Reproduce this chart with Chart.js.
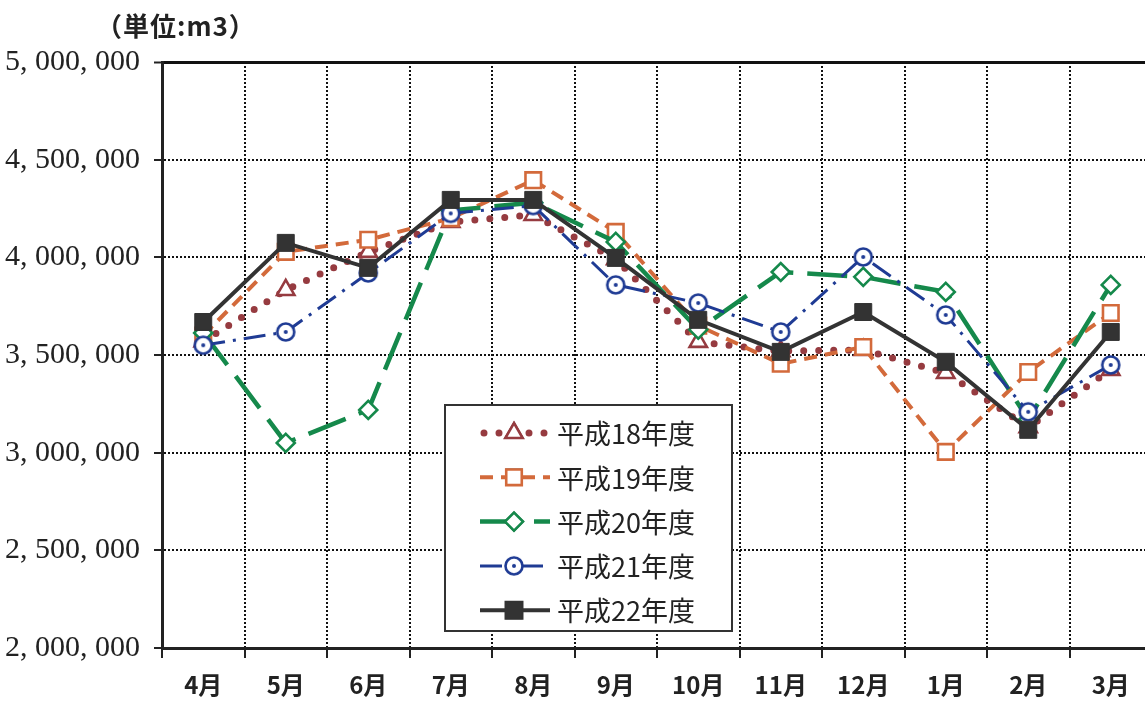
<!DOCTYPE html>
<html lang="ja">
<head>
<meta charset="utf-8">
<script src="https://cdn.jsdelivr.net/npm/chart.js@4/dist/chart.umd.min.js"></script>
<style>
    body { margin: 0; background: #fff; }
    #quadro { position: relative; width: 1145px; height: 704px; overflow: hidden; }
    #unidade {
        position: absolute; left: 96px; top: 6px; letter-spacing: 1px;
        font: bold 26px "Noto Sans CJK JP", sans-serif; color: #222;
    }
    canvas { position: absolute; left: 0; top: 0; }
</style>
</head>
<body>
<div id="quadro">
    <canvas id="grafico" width="1170" height="704"></canvas>
    <div id="unidade">（単位:m3）</div>
</div>
<script>
// Dados
const meses = ['4月', '5月', '6月', '7月', '8月', '9月', '10月', '11月', '12月', '1月', '2月', '3月'];
const nomes = ['平成18年度', '平成19年度', '平成20年度', '平成21年度', '平成22年度'];
const h18 = [3570000, 3833000, 4028000, 4181000, 4217000, 3990000, 3567000, 3520000, 3526000, 3408000, 3130000, 3424000];
const h19 = [3600000, 4028000, 4090000, 4200000, 4395000, 4130000, 3650000, 3455000, 3541000, 3004000, 3413000, 3715000];
const h20 = [3613000, 3050000, 3219000, 4240000, 4280000, 4079000, 3630000, 3925000, 3900000, 3823000, 3170000, 3859000];
const h21 = [3550000, 3618000, 3920000, 4225000, 4265000, 3859000, 3766000, 3618000, 4002000, 3705000, 3209000, 3449000];
const h22 = [3669000, 4074000, 3946000, 4294000, 4294000, 3997000, 3680000, 3516000, 3720000, 3465000, 3117000, 3618000];
const yTicks = [2000000, 2500000, 3000000, 3500000, 4000000, 4500000, 5000000];

// marcador de círculo com ponto no centro
function criarCirculo(cor) {
    const c = document.createElement('canvas');
    c.width = 24;
    c.height = 24;
    const g = c.getContext('2d');
    g.fillStyle = '#fff';
    g.strokeStyle = cor;
    g.lineWidth = 2.6;
    g.beginPath();
    g.arc(12, 12, 8.5, 0, Math.PI * 2);
    g.fill();
    g.stroke();
    g.fillStyle = cor;
    g.beginPath();
    g.arc(12, 12, 2, 0, Math.PI * 2);
    g.fill();
    return c;
}

const circuloAzul = criarCirculo('#1f3b94');

const datasets = [
    {
        label: nomes[0], data: h18, order: 4,
        borderColor: '#963b40', borderWidth: 7, borderDash: [0, 15], borderCapStyle: 'round',
        pointStyle: 'triangle', pointRadius: 10, pointBorderWidth: 2.6,
        pointBorderColor: '#963b40', pointBackgroundColor: '#fff'
    },
    {
        label: nomes[1], data: h19, order: 3,
        borderColor: '#d36a3b', borderWidth: 4, borderDash: [13, 8],
        pointStyle: 'rect', pointRadius: 11, pointBorderWidth: 2.6,
        pointBorderColor: '#d36a3b', pointBackgroundColor: '#fff'
    },
    {
        label: nomes[2], data: h20, order: 2,
        borderColor: '#15894b', borderWidth: 4.5, borderDash: [40, 14],
        pointStyle: 'rectRot', pointRadius: 9, pointBorderWidth: 2.6,
        pointBorderColor: '#15894b', pointBackgroundColor: '#fff'
    },
    {
        label: nomes[3], data: h21, order: 1,
        borderColor: '#1f3b94', borderWidth: 3, borderDash: [22, 8, 3, 8],
        pointStyle: circuloAzul, pointRadius: 10,
        pointBorderColor: '#1f3b94', pointBackgroundColor: '#fff'
    },
    {
        label: nomes[4], data: h22, order: 0,
        borderColor: '#333', borderWidth: 4,
        pointStyle: 'rect', pointRadius: 12, pointBorderWidth: 1,
        pointBorderColor: '#333', pointBackgroundColor: '#333'
    }
];

// legenda desenhada dentro da área do gráfico
const legendaPlugin = {
    id: 'legendaInterna',
    afterDraw(chart) {
        const ctx = chart.ctx;
        const bx = 445, by = 405, bw = 287, bh = 226;
        ctx.save();
        ctx.fillStyle = '#fff';
        ctx.fillRect(bx, by, bw, bh);
        ctx.strokeStyle = '#333';
        ctx.lineWidth = 2;
        ctx.strokeRect(bx, by, bw, bh);

        chart.data.datasets.forEach(function (ds, i) {
            const y = 433 + i * 44.3;
            ctx.save();
            ctx.strokeStyle = ds.borderColor;
            ctx.lineWidth = ds.borderWidth;
            ctx.lineCap = ds.borderCapStyle || 'butt';
            ctx.setLineDash(ds.borderDash || []);
            ctx.beginPath();
            ctx.moveTo(i === 0 ? 484 : 480, y);
            ctx.lineTo(550, y);
            ctx.stroke();
            ctx.restore();

            const mx = 514;
            ctx.save();
            ctx.setLineDash([]);
            if (ds.pointStyle instanceof HTMLCanvasElement) {
                ctx.drawImage(ds.pointStyle, mx - 12, y - 12);
            } else {
                Chart.helpers.drawPoint(ctx, {
                    pointStyle: ds.pointStyle,
                    radius: ds.pointRadius,
                    borderWidth: ds.pointBorderWidth,
                    rotation: 0
                }, mx, y);
                ctx.fillStyle = ds.pointBackgroundColor;
                ctx.strokeStyle = ds.pointBorderColor;
                ctx.lineWidth = ds.pointBorderWidth;
                ctx.fill();
                ctx.stroke();
            }
            ctx.restore();

            ctx.fillStyle = '#222';
            ctx.font = '27px "Noto Sans CJK JP", sans-serif';
            ctx.textBaseline = 'middle';
            ctx.textAlign = 'left';
            ctx.fillText(ds.label, 557, y + 1);
        });
        ctx.restore();
    }
};

function formatarEixo(valor) {
    return valor.toLocaleString('en-US').replace(/,/g, ', ');
}

new Chart(document.getElementById('grafico'), {
    type: 'line',
    data: { labels: meses, datasets: datasets },
    options: {
        responsive: false,
        animation: false,
        devicePixelRatio: 1,
        layout: { padding: { top: 62, right: 18, bottom: 0, left: 0 } },
        plugins: {
            legend: { display: false },
            tooltip: { enabled: false }
        },
        elements: { line: { tension: 0 } },
        scales: {
            x: {
                offset: true,
                grid: {
                    offset: true,
                    color: '#111',
                    lineWidth: 2,
                    tickLength: 10,
                    tickColor: '#222',
                    tickWidth: 2,
                    tickBorderDash: []
                },
                border: { display: true, color: '#222', width: 3, dash: [2, 2] },
                ticks: {
                    color: '#222',
                    padding: 12,
                    font: { family: '"Noto Sans CJK JP", sans-serif', size: 24, weight: 'bold' }
                },
                afterFit: function (scale) { scale.height = 56; }
            },
            y: {
                min: 2000000,
                max: 5000000,
                afterBuildTicks: function (scale) {
                    scale.ticks = yTicks.map(v => ({ value: v }));
                },
                grid: {
                    color: '#111',
                    lineWidth: ctx => (ctx.tick && ctx.tick.value === 5000000 ? 3 : 2),
                    tickLength: 8,
                    tickColor: '#222',
                    tickWidth: 2,
                    tickBorderDash: []
                },
                border: {
                    display: true, color: '#222', width: 3,
                    dash: ctx => (ctx.tick && ctx.tick.value === 5000000 ? [] : [2, 2])
                },
                ticks: {
                    color: '#222',
                    padding: 14,
                    font: { family: '"Liberation Serif", serif', size: 30 },
                    callback: formatarEixo
                },
                afterFit: function (scale) { scale.width = 162; }
            }
        }
    },
    plugins: [legendaPlugin]
});
</script>
</body>
</html>
